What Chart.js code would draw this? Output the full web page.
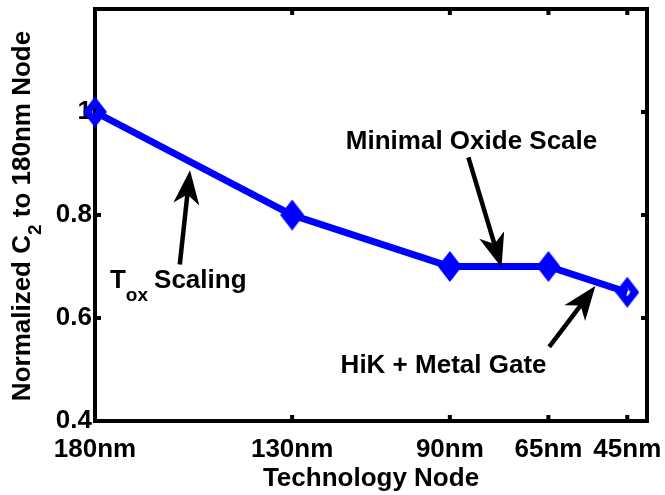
<!DOCTYPE html>
<html>
<head>
<meta charset="utf-8">
<script src="https://cdn.jsdelivr.net/npm/chart.js@4/dist/chart.umd.min.js"></script>
<style>
  html, body { margin: 0; padding: 0; background: #fff; }
</style>
</head>
<body>
<canvas id="chart" width="665" height="495"></canvas>
<script>
// technology node (nm) and normalized C2
const nodes = [180, 130, 90, 65, 45];
const c2Values = [1.0, 0.8, 0.7, 0.7, 0.65];
const xTickValues = [180, 130, 90, 65, 45];
const yTickValues = [0.4, 0.6, 0.8, 1.0, 1.2];

// annotations in data coordinates
const arrows = [
  { from: [158.5, 0.704], to: [155.9, 0.887] },
  { from: [85.3, 0.912], to: [76.9, 0.698] },
  { from: [64.8, 0.544], to: [53.1, 0.662] }
];
const notes = [
  { text: 'Minimal Oxide Scale', x: 84.5, y: 0.942 },
  { text: 'HiK + Metal Gate', x: 91.6, y: 0.508 }
];
const toxNote = { x: 176.2, y: 0.673 };

const FONT = '"Liberation Sans", Arial, sans-serif';
const BLUE = '#0000ff';

// diamond marker, a bit taller than wide like the matlab one
function makeDiamond(hole) {
  const w = 24, h = 31;
  const c = document.createElement('canvas');
  c.width = w; c.height = h;
  const g = c.getContext('2d');
  g.fillStyle = BLUE;
  g.beginPath();
  g.moveTo(w / 2, 0); g.lineTo(w, h / 2); g.lineTo(w / 2, h); g.lineTo(0, h / 2);
  g.closePath();
  if (hole) {
    g.moveTo(w / 2, h / 2 - 4); g.lineTo(w / 2 - 3, h / 2); g.lineTo(w / 2, h / 2 + 4); g.lineTo(w / 2 + 3, h / 2);
    g.closePath();
  }
  g.fill('evenodd');
  return c;
}
const solidMark = makeDiamond(false);
const holeMark = makeDiamond(true);

function drawArrow(ctx, x1, y1, x2, y2) {
  const ang = Math.atan2(y2 - y1, x2 - x1);
  const len = 34, half = 13;
  const cs = Math.cos(ang), sn = Math.sin(ang);
  const bx = x2 - cs * len, by = y2 - sn * len;
  ctx.save();
  ctx.strokeStyle = '#000';
  ctx.fillStyle = '#000';
  ctx.lineWidth = 4.5;
  ctx.beginPath();
  ctx.moveTo(x1, y1);
  ctx.lineTo(x2 - cs * 12, y2 - sn * 12);
  ctx.stroke();
  ctx.beginPath();
  ctx.moveTo(x2, y2);
  ctx.lineTo(bx - sn * half, by + cs * half);
  ctx.lineTo(x2 - cs * len * 0.72, y2 - sn * len * 0.72);
  ctx.lineTo(bx + sn * half, by - cs * half);
  ctx.closePath();
  ctx.fill();
  ctx.restore();
}

const boxPlugin = {
  id: 'box',
  beforeDatasetsDraw(chart) {
    const { ctx, chartArea: a, scales } = chart;
    ctx.save();
    ctx.strokeStyle = '#000';
    ctx.lineWidth = 4;
    ctx.strokeRect(a.left, a.top, a.right - a.left, a.bottom - a.top);
    ctx.beginPath();
    scales.x.ticks.forEach(t => {
      const px = scales.x.getPixelForValue(t.value);
      ctx.moveTo(px, a.bottom); ctx.lineTo(px, a.bottom - 6);
      ctx.moveTo(px, a.top); ctx.lineTo(px, a.top + 6);
    });
    scales.y.ticks.forEach(t => {
      const py = scales.y.getPixelForValue(t.value);
      ctx.moveTo(a.left, py); ctx.lineTo(a.left + 6, py);
      ctx.moveTo(a.right, py); ctx.lineTo(a.right - 6, py);
    });
    ctx.stroke();
    ctx.restore();
  },
  afterDraw(chart) {
    const { ctx, scales } = chart;
    const xs = scales.x, ys = scales.y;
    arrows.forEach(ar => {
      drawArrow(ctx, xs.getPixelForValue(ar.from[0]), ys.getPixelForValue(ar.from[1]),
        xs.getPixelForValue(ar.to[0]), ys.getPixelForValue(ar.to[1]));
    });
    ctx.save();
    ctx.fillStyle = '#000';
    ctx.textBaseline = 'middle';
    ctx.textAlign = 'center';
    ctx.font = 'bold 26px ' + FONT;
    notes.forEach(n => {
      ctx.fillText(n.text, xs.getPixelForValue(n.x), ys.getPixelForValue(n.y));
    });
    // T_ox Scaling
    ctx.textAlign = 'left';
    let tx = xs.getPixelForValue(toxNote.x);
    const ty = ys.getPixelForValue(toxNote.y);
    ctx.fillText('T', tx, ty);
    tx += ctx.measureText('T').width;
    ctx.font = 'bold 19px ' + FONT;
    ctx.fillText('ox', tx, ty + 15);
    tx += ctx.measureText('ox').width + 6;
    ctx.font = 'bold 26px ' + FONT;
    ctx.fillText('Scaling', tx, ty);

    // y axis title with subscript
    const p1 = 'Normalized C', p2 = '2', p3 = ' to 180nm Node';
    ctx.font = 'bold 26px ' + FONT;
    const w1 = ctx.measureText(p1).width, w3 = ctx.measureText(p3).width;
    ctx.font = 'bold 19px ' + FONT;
    const w2 = ctx.measureText(p2).width;
    const total = w1 + w2 + w3;
    ctx.translate(23, 216);
    ctx.rotate(-Math.PI / 2);
    let sx = -total / 2;
    ctx.font = 'bold 26px ' + FONT;
    ctx.fillText(p1, sx, 0);
    sx += w1;
    ctx.font = 'bold 19px ' + FONT;
    ctx.fillText(p2, sx, 13);
    sx += w2;
    ctx.font = 'bold 26px ' + FONT;
    ctx.fillText(p3, sx, 0);
    ctx.restore();
  }
};

new Chart(document.getElementById('chart').getContext('2d'), {
  type: 'line',
  data: {
    datasets: [{
      data: nodes.map((n, i) => ({ x: n, y: c2Values[i] })),
      borderColor: BLUE,
      backgroundColor: BLUE,
      borderWidth: 7,
      pointStyle: ctx => (ctx.dataIndex === 0 || ctx.dataIndex === nodes.length - 1) ? holeMark : solidMark,
      pointRadius: 12,
      clip: false,
      tension: 0
    }]
  },
  plugins: [boxPlugin],
  options: {
    responsive: false,
    animation: false,
    layout: { autoPadding: false, padding: { top: 9, right: 18, left: 0, bottom: 0 } },
    plugins: { legend: { display: false }, tooltip: { enabled: false } },
    scales: {
      x: {
        type: 'linear',
        reverse: true,
        min: 40,
        max: 180,
        border: { display: false },
        grid: { display: false, drawTicks: false },
        afterBuildTicks: s => { s.ticks = xTickValues.map(v => ({ value: v })); },
        afterFit: s => { s.height = 74; s.paddingLeft = 0; s.paddingRight = 0; },
        ticks: {
          color: '#000',
          padding: 13,
          autoSkip: false,
          maxRotation: 0,
          font: { family: FONT, size: 26, weight: 'bold' },
          callback: v => v + 'nm'
        },
        title: {
          display: true,
          text: 'Technology Node',
          color: '#000',
          padding: { top: 0, bottom: 1 },
          font: { family: FONT, size: 26, weight: 'bold' }
        }
      },
      y: {
        min: 0.4,
        max: 1.2,
        border: { display: false },
        grid: { display: false, drawTicks: false },
        afterBuildTicks: s => { s.ticks = yTickValues.map(v => ({ value: v })); },
        afterFit: s => { s.width = 95; s.paddingTop = 0; s.paddingBottom = 0; },
        ticks: {
          color: '#000',
          padding: 3,
          font: { family: FONT, size: 26, weight: 'bold' },
          callback: v => v > 1.1 ? '' : String(Math.round(v * 10) / 10)
        }
      }
    }
  }
});
</script>
</body>
</html>
